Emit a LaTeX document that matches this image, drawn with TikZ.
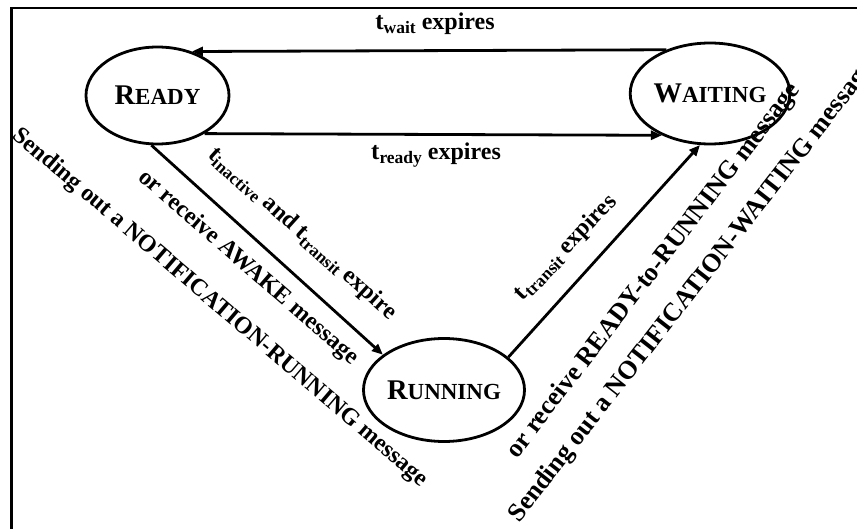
\documentclass[tikz,border=0pt]{standalone}
\usepackage{fontspec}
\setmainfont{Liberation Serif}
\usetikzlibrary{shapes.geometric,arrows.meta}
\newcommand{\tsb}[1]{{\fontsize{25}{25}\selectfont t}\raisebox{-4pt}{\fontsize{17.5}{17.5}\selectfont #1}}
\newcommand{\stname}[2]{{\fontsize{28.5}{28.5}\selectfont #1}{\fontsize{23}{23}\selectfont #2}}
\begin{document}
\begin{tikzpicture}[x=1pt,y=-1pt,
  state/.style={ellipse, draw, line width=2.8pt, inner sep=0pt, font=\bfseries},
  arr/.style={line width=2.8pt, -{Triangle[length=11pt,width=9pt]}},
  lbl/.style={font=\bfseries\fontsize{24}{24}\selectfont, inner sep=0pt},
  lblr/.style={font=\bfseries\fontsize{26}{26}\selectfont, inner sep=0pt}]
\useasboundingbox (0,0) rectangle (857,529);
\draw[line width=2.4pt] (11.5,529) -- (11.5,8) -- (857,8);
\node[state, minimum width=143pt, minimum height=97pt] (R) at (157.5,95.5) {\stname{R}{EADY}};
\node[state, minimum width=142pt, minimum height=101pt] (W) at (710,93.5) {\stname{W}{AITING}};
\node[state, minimum width=143pt, minimum height=103pt] (N) at (444,390) {\stname{R}{UNNING}};
\draw[arr] (W.135.5) -- (R.52);
\draw[arr] (R.-39) -- (W.221);
\draw[arr] (R.263) -- (N.150);
\draw[arr] (N.27) -- (W.259);
\node[lbl, anchor=base] (l1) at (435,30) {\tsb{wait} expires};
\node[lbl, anchor=base] (l2) at (436,160) {\tsb{ready} expires};
\node[lbl, rotate=-42] (l3) at (302,234) {\tsb{inactive} and \tsb{transit} expire};
\node[lbl, rotate=-41] (l4) at (248,268) {or receive AWAKE message};
\node[lbl, rotate=-40.5] (l5) at (220,308) {Sending out a NOTIFICATION-RUNNING message};
\node[lbl, rotate=46] (l6) at (566,248) {\tsb{transit} expires};
\node[lblr, rotate=52.5] (l7) at (654,271) {or receive READY-to-RUNNING message};
\node[lblr, rotate=52] (l8) at (692,292) {Sending out a NOTIFICATION-WAITING message};
\end{tikzpicture}
\end{document}
